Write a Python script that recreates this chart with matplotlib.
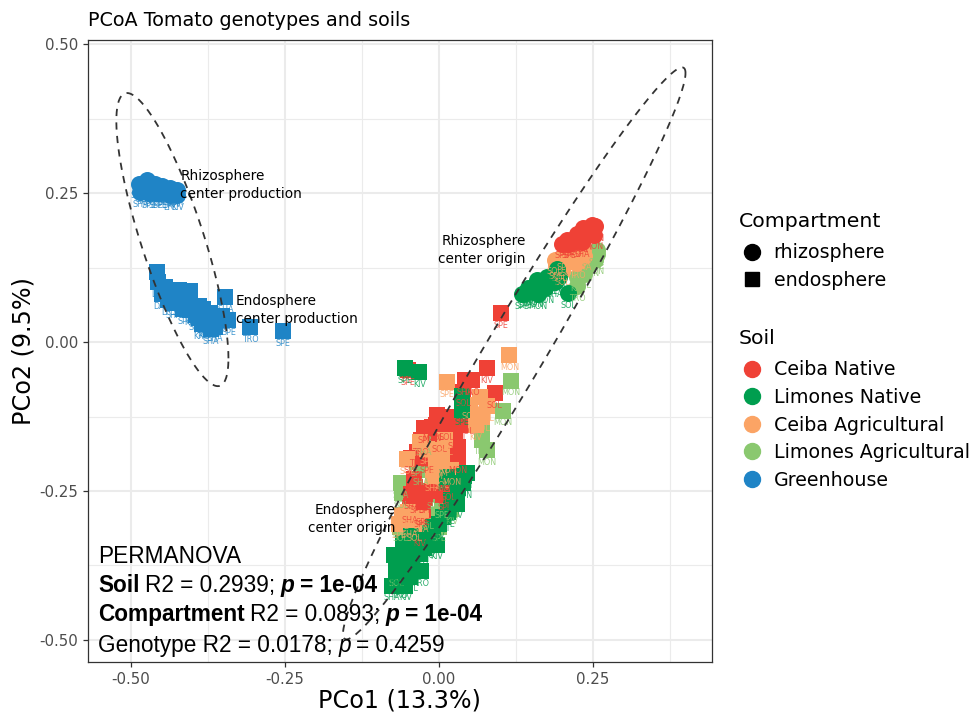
import numpy as np
import matplotlib
matplotlib.use('Agg')
import matplotlib.pyplot as plt
from matplotlib.lines import Line2D

COLORS = {
    'Ceiba Native': '#EF4136',
    'Limones Native': '#009E4F',
    'Ceiba Agricultural': '#FBA465',
    'Limones Agricultural': '#8AC86F',
    'Greenhouse': '#1F84C6',
}

# greenhouse
gh_rhizo_x = [-0.488, -0.475, -0.461, -0.450, -0.437, -0.425, -0.485, -0.471, -0.453, -0.437, -0.425, -0.477,
              -0.480, -0.465, -0.445, -0.430, -0.470, -0.450, -0.440, -0.460]
gh_rhizo_y = [0.266, 0.272, 0.265, 0.262, 0.259, 0.255, 0.252, 0.250, 0.250, 0.247, 0.247, 0.258,
              0.260, 0.257, 0.255, 0.252, 0.265, 0.258, 0.250, 0.250]
gh_rhizo_labels = 'SHA KIV SOL TRO MON SPI SHA SPE SPE LYC KIV TRO SOL SHA SPE KIV TRO MON SPI SPE'.split()

gh_endo_x = [-0.458, -0.456, -0.445, -0.423, -0.404, -0.437, -0.421, -0.404, -0.383, -0.404,
             -0.389, -0.372, -0.364, -0.380, -0.342, -0.347, -0.307, -0.254, -0.353,
             -0.450, -0.430, -0.415, -0.395, -0.410, -0.390, -0.375, -0.360, -0.385, -0.370, -0.430, -0.440]
gh_endo_y = [0.118, 0.101, 0.093, 0.087, 0.085, 0.081, 0.070, 0.070, 0.056, 0.053,
             0.040, 0.048, 0.026, 0.032, 0.037, 0.075, 0.025, 0.018, 0.043,
             0.080, 0.065, 0.055, 0.045, 0.075, 0.060, 0.040, 0.040, 0.030, 0.022, 0.085, 0.070]
gh_endo_labels = ('SOL LYC DAN MON SPI SHA SPE TRO SOL KIV KIV MON SHA KIV SPE SHA TRO SPE PIM '
                  'DAN SHA SPI SPE SOL TRO KIV KIV KRO SHA MON LYC').split()

# rhizosphere, origin soils
cn_rhizo_x = [0.248, 0.234, 0.253, 0.224, 0.240, 0.207, 0.218, 0.232, 0.251, 0.230, 0.210, 0.240, 0.200]
cn_rhizo_y = [0.196, 0.191, 0.194, 0.182, 0.179, 0.171, 0.168, 0.168, 0.180, 0.175, 0.165, 0.190, 0.165]
cn_rhizo_labels = 'KIV SOL MON SHA SPI SPE TRO SHA MON SOL SPE KIV SPE'.split()

ca_rhizo_x = [0.188, 0.202, 0.218, 0.234, 0.196, 0.224, 0.210, 0.235, 0.190, 0.200]
ca_rhizo_y = [0.138, 0.146, 0.149, 0.155, 0.127, 0.132, 0.135, 0.145, 0.130, 0.120]
ca_rhizo_labels = 'SOL SPE SHA KIV SOL TRO SOL SHA SPE SOL'.split()

la_rhizo_x = [0.256, 0.253, 0.240, 0.224, 0.224, 0.245, 0.256, 0.235, 0.245, 0.230]
la_rhizo_y = [0.154, 0.138, 0.127, 0.110, 0.094, 0.145, 0.147, 0.115, 0.135, 0.125]
la_rhizo_labels = 'SOL MON SPI KIV TRO SHA SPE SOL MON SPI'.split()

ln_rhizo_x = [0.140, 0.159, 0.175, 0.191, 0.153, 0.172, 0.188, 0.210, 0.147,
              0.165, 0.180, 0.195, 0.145, 0.160, 0.135]
ln_rhizo_y = [0.082, 0.105, 0.110, 0.123, 0.084, 0.090, 0.101, 0.082, 0.086,
              0.090, 0.105, 0.110, 0.090, 0.080, 0.080]
ln_rhizo_labels = 'SPE KIV SPI SOL MON MON SHA SOL TRO SPI SOL SHA SHA MON SPE'.split()

# endosphere, origin soils
la_endo_x = [0.117, 0.103, 0.077, 0.069, -0.062, -0.061, -0.036, -0.025, 0.004, -0.063, -0.069,
             -0.010, 0.020, -0.030, 0.070, -0.020, 0.000]
la_endo_y = [-0.065, -0.115, -0.181, -0.164, -0.237, -0.254, -0.201, -0.165, -0.271, -0.310, -0.385,
             -0.255, -0.280, -0.215, -0.150, -0.290, -0.310]
la_endo_labels = 'MON MON MON TRO SHA SOL SPI SHA SPE SOL SOL SPI KIV SHA SPI SOL SPE'.split()

cn_endo_x = [0.078, 0.090, -0.050, 0.101, 0.042, 0.053, 0.039, -0.004, -0.012, 0.012, 0.034, 0.031,
             0.031, -0.020, -0.036, -0.039, -0.036, -0.023, 0.004, -0.047, -0.026, -0.031, 0.007,
             -0.005, -0.025, 0.020, 0.045, 0.025, 0.000, -0.030, -0.045, -0.040, -0.020, 0.015, -0.045, -0.030]
cn_endo_y = [-0.044, -0.086, -0.047, 0.049, -0.064, -0.064, -0.083, -0.122, -0.142, -0.139, -0.139, -0.176,
             -0.195, -0.195, -0.184, -0.243, -0.262, -0.262, -0.246, -0.279, -0.282, -0.318, -0.257,
             -0.140, -0.145, -0.125, -0.130, -0.155, -0.160, -0.165, -0.195, -0.230, -0.250, -0.240, -0.255, -0.285]
cn_endo_labels = ('KIV SOL SPE SPE SHA TRO SOL SPE MON SOL SPI SPA '
                  'MON SPE TRO SHA SPE SPI SOL SHA SPE KIV SPI '
                  'SOL SPI MON SOL SPE SOL TRO SPE SPE SPI SOL SHA SPE').split()

ca_endo_x = [0.114, 0.012, 0.067, 0.061, 0.077, -0.052, -0.031, 0.004, 0.004, -0.061, -0.047, 0.004,
             -0.020, 0.010, 0.005, 0.020, -0.010, 0.050, 0.070, 0.060, -0.050, -0.030, -0.065, -0.040, -0.005]
ca_endo_y = [-0.022, -0.067, -0.092, -0.123, -0.108, -0.197, -0.167, -0.181, -0.201, -0.290, -0.302, -0.221,
             -0.180, -0.165, -0.195, -0.215, -0.225, -0.105, -0.125, -0.140, -0.285, -0.295, -0.305, -0.310, -0.205]
ca_endo_labels = ('MON SPE SOL KIV SOL SOL TRO SPI PIM SPE SHA SOL '
                  'SPE SOL TRO MON SHA SOL SOL KIV SPE SHA SPE SOL PIM').split()

ln_endo_x = [-0.055, -0.032, 0.037, 0.037, 0.045, 0.039, 0.029, 0.007, -0.004, -0.015, -0.036, -0.058,
             -0.074, -0.031, -0.052, -0.058, -0.047, -0.077, -0.065, -0.055, -0.044, -0.020, 0.012,
             0.030, 0.040, 0.020, 0.015, -0.010, 0.000, -0.025, -0.060, -0.040, -0.070, -0.045, -0.010, -0.030]
ln_endo_y = [-0.044, -0.051, -0.114, -0.091, -0.220, -0.237, -0.271, -0.293, -0.340, -0.321, -0.332, -0.338,
             -0.358, -0.355, -0.366, -0.383, -0.394, -0.409, -0.405, -0.409, -0.377, -0.338, -0.226,
             -0.245, -0.225, -0.265, -0.285, -0.310, -0.305, -0.345, -0.360, -0.350, -0.385, -0.325, -0.330, -0.385]
ln_endo_labels = ('SPE KIV SPE SOL SPI MON KIV SPI KIV SOL SOL SOL '
                  'SPI TRO MON TRO SOL SHA TRO KIV PIM TRO MON '
                  'SPI SHA SPI SPE SOL KIV SPI SPI SOL TRO SOL MON KRO').split()

# draw order: (soil, marker, x, y, genotype)
layers = [
    ('Greenhouse', 'o', gh_rhizo_x, gh_rhizo_y, gh_rhizo_labels),
    ('Greenhouse', 's', gh_endo_x, gh_endo_y, gh_endo_labels),
    ('Limones Agricultural', 'o', la_rhizo_x, la_rhizo_y, la_rhizo_labels),
    ('Ceiba Agricultural', 'o', ca_rhizo_x, ca_rhizo_y, ca_rhizo_labels),
    ('Ceiba Native', 'o', cn_rhizo_x, cn_rhizo_y, cn_rhizo_labels),
    ('Limones Native', 'o', ln_rhizo_x, ln_rhizo_y, ln_rhizo_labels),
    ('Limones Agricultural', 's', la_endo_x, la_endo_y, la_endo_labels),
    ('Ceiba Native', 's', cn_endo_x, cn_endo_y, cn_endo_labels),
    ('Ceiba Agricultural', 's', ca_endo_x, ca_endo_y, ca_endo_labels),
    ('Limones Native', 's', ln_endo_x, ln_endo_y, ln_endo_labels),
]

# stat_ellipse style: centre, half extents, correlation
ellipses = [
    (-0.433, 0.172, 0.091, 0.246, -0.81),
    (0.122, -0.019, 0.278, 0.480, 0.98),
]

center_notes = [
    (-0.420, 0.263, 'Rhizosphere\ncenter production', 'left'),
    (-0.330, 0.054, 'Endosphere\ncenter production', 'left'),
    (0.141, 0.154, 'Rhizosphere\ncenter origin', 'right'),
    (-0.070, -0.297, 'Endosphere\ncenter origin', 'right'),
]

# (text, weight, style) pieces of each line
permanova_lines = [
    [('PERMANOVA', 'normal', 'normal')],
    [('Soil', 'bold', 'normal'), ('R2 = 0.2939;', 'normal', 'normal'),
     ('p', 'bold', 'italic'), ('= 1e-04', 'bold', 'normal')],
    [('Compartment', 'bold', 'normal'), ('R2 = 0.0893;', 'normal', 'normal'),
     ('p', 'bold', 'italic'), ('= 1e-04', 'bold', 'normal')],
    [('Genotype R2 = 0.0178;', 'normal', 'normal'), ('p', 'normal', 'italic'), ('= 0.4259', 'normal', 'normal')],
]


def ellipse_curve(cx, cy, sx, sy, r, n=200):
    t = np.linspace(0, 2 * np.pi, n)
    return cx + sx * np.cos(t), cy + sy * np.cos(t - np.arccos(r))


fig = plt.figure(figsize=(9.73, 7.12), dpi=100)
ax = fig.add_axes([88 / 973, 1 - 662 / 712, 624 / 973, 622 / 712])

for soil, marker, x, y, labels in layers:
    ax.scatter(x, y, s=125 if marker == 's' else 150, marker=marker, color=COLORS[soil],
               linewidths=0, zorder=3)

for soil, marker, x, y, labels in layers:
    for xi, yi, lab in zip(x, y, labels):
        ax.annotate(lab, (xi, yi), xytext=(0, -5.5), textcoords='offset points', ha='center', va='top',
                    fontsize=5.8, color=COLORS[soil], alpha=0.85, zorder=4)

for cx, cy, sx, sy, r in ellipses:
    ex, ey = ellipse_curve(cx, cy, sx, sy, r)
    ax.plot(ex, ey, color='#333333', linewidth=1.3, linestyle=(0, (4, 3.5)), zorder=5)

for x, y, note, ha in center_notes:
    ax.text(x, y, note, ha=ha, va='center', fontsize=9.8, color='black', linespacing=1.35, zorder=6)

ax.set_xlim(-0.570, 0.443)
ax.set_ylim(-0.537, 0.507)
ax.set_xticks([-0.50, -0.25, 0.00, 0.25])
ax.set_yticks([-0.50, -0.25, 0.00, 0.25, 0.50])
ax.set_xticklabels(['-0.50', '-0.25', '0.00', '0.25'])
ax.set_yticklabels(['-0.50', '-0.25', '0.00', '0.25', '0.50'])
ax.set_xticks([-0.375, -0.125, 0.125, 0.375], minor=True)
ax.set_yticks([-0.375, -0.125, 0.125, 0.375], minor=True)
ax.grid(True, which='major', color='#EBEBEB', linewidth=1.5, zorder=0)
ax.grid(True, which='minor', color='#EBEBEB', linewidth=0.8, zorder=0)
ax.set_axisbelow(True)
ax.tick_params(which='minor', length=0)
ax.tick_params(which='major', length=3.5, width=0.9, color='#333333', labelcolor='#4D4D4D', labelsize=10.8)
for side in ax.spines.values():
    side.set_color('#333333')
    side.set_linewidth(0.9)

ax.set_xlabel('PCo1 (13.3%)', fontsize=17.2, labelpad=1)
ax.set_ylabel('PCo2 (9.5%)', fontsize=17.2, labelpad=3)
ax.set_title('PCoA Tomato genotypes and soils', fontsize=13.8, loc='left', pad=10)

# PERMANOVA block, pieces chained along each baseline
renderer = fig.canvas.get_renderer()
line_px = [563, 592, 621, 652]
for pieces, py in zip(permanova_lines, line_px):
    xpos = 98
    for s, weight, style in pieces:
        t = fig.text(xpos / 973, 1 - py / 712, s, family='Liberation Sans', fontsize=16.3, fontweight=weight,
                     fontstyle=style, va='baseline', ha='left', zorder=7)
        xpos = t.get_window_extent(renderer).x1 + 5.5

compartment_handles = [
    Line2D([], [], marker='o', linestyle='', color='black', markersize=11.5, label='rhizosphere'),
    Line2D([], [], marker='s', linestyle='', color='black', markersize=10.5, label='endosphere'),
]
soil_handles = [
    Line2D([], [], marker='o', linestyle='', color=c, markersize=11.5, label=name)
    for name, c in COLORS.items()
]

legend_style = dict(loc='upper left', frameon=False, fontsize=13.7, title_fontsize=14.7, alignment='left',
                    labelspacing=0.45, handlelength=1.4, handletextpad=0.44, borderpad=0.3, borderaxespad=0)
leg1 = fig.legend(handles=compartment_handles, title='Compartment',
                  bbox_to_anchor=(733 / 973, 1 - 206 / 712), **legend_style)
leg2 = fig.legend(handles=soil_handles, title='Soil',
                  bbox_to_anchor=(733 / 973, 1 - 323 / 712), **legend_style)
# a little more room under the legend titles
leg1._legend_box.sep += 3
leg2._legend_box.sep += 3

plt.savefig('out.png', dpi=100)
plt.close()
